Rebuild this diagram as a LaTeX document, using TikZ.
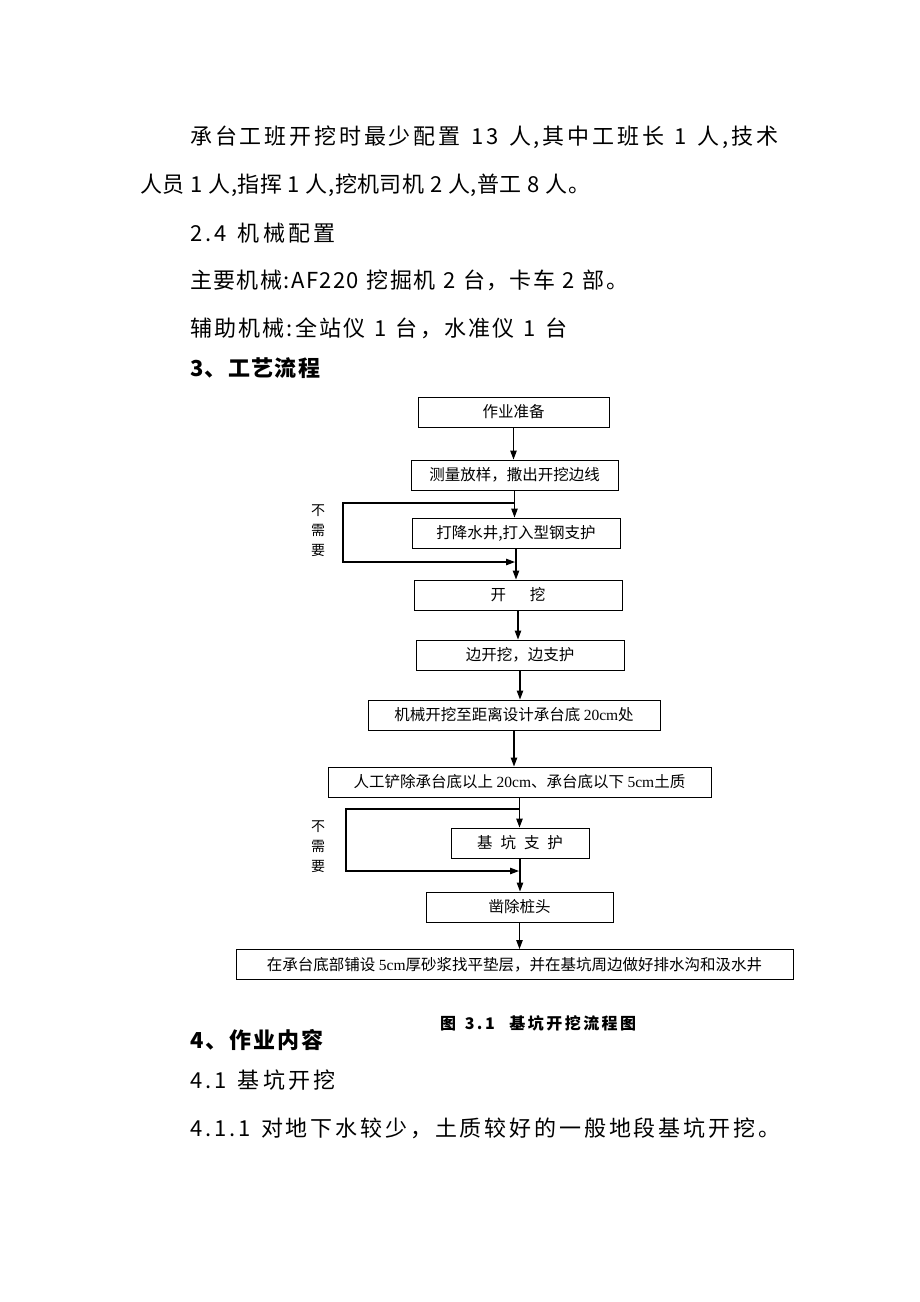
\documentclass[tikz,border=0pt]{standalone}
\usepackage{fontspec}
\setmainfont{Liberation Serif}
\newfontfamily\cjk{Noto Sans CJK SC}
\usetikzlibrary{arrows.meta}
\newcommand\fsbox{\cjk\fontsize{15.5}{18}\selectfont}
\newcommand\fsbody{\cjk\fontsize{22}{26}\selectfont}
\newcommand\fslbl{\cjk\fontsize{14}{20}\selectfont}
% spread a line of characters evenly over a given width
\def\spreadA#1{#1\spreadB}
\def\spreadB#1{\ifx#1\relax\else\hfill#1\expandafter\spreadB\fi}
\newcommand\spreadline[2]{\makebox[#1][l]{\spreadA #2\relax}}
\begin{document}
\begin{tikzpicture}[x=1pt,y=-1pt,
  box/.style={draw,line width=1pt,minimum height=30pt,inner sep=0pt,font=\fsbox},
  arr/.style={-{Triangle[length=9pt,width=6.5pt]},line width=1.1pt},
  body/.style={anchor=west,inner sep=0pt,font=\fsbody},
  lbl/.style={align=center,inner sep=0pt,font=\fslbl}]
\useasboundingbox (0,0) rectangle (920,1302);
\fill[white] (0,0) rectangle (920,1302);
% body text above
\node[body] (p1) at (190,137) {\spreadline{588pt}{承台工班开挖时最少配置~13~人,其中工班长~1~人,技术}};
\node[body] (p2) at (140,185) {\spreadline{450pt}{人员~1~人,指挥~1~人,挖机司机~2~人,普工~8~人。}};
\node[body] (p3) at (190,233) {\spreadline{145pt}{2.4~机械配置}};
\node[body] (p4) at (190,280) {\spreadline{438pt}{主要机械:AF220~挖掘机~2~台，卡车~2~部。}};
\node[body] (p5) at (190,328) {\spreadline{377pt}{辅助机械:全站仪~1~台，水准仪~1~台}};
\node[body] (h3) at (190,368) {\bfseries\spreadline{130pt}{3、工艺流程}};
% flow boxes
\node[box,minimum width=191pt] (b1) at (513.5,412) {作业准备};
\node[box,minimum width=207pt] (b2) at (514.5,475) {测量放样，撒出开挖边线};
\node[box,minimum width=208pt] (b3) at (516,533) {打降水井,打入型钢支护};
\node[box,minimum width=208pt] (b4) at (518,595) {开\hspace{24pt}挖};
\node[box,minimum width=208pt] (b5) at (520,655) {边开挖，边支护};
\node[box,minimum width=292pt] (b6) at (514,715) {机械开挖至距离设计承台底 {\rmfamily 20cm}处};
\node[box,minimum width=383pt] (b7) at (519.5,782) {人工铲除承台底以上 {\rmfamily 20cm}、承台底以下 {\rmfamily 5cm}土质};
\node[box,minimum width=138pt] (b8) at (520,843) {基\hspace{8pt}坑\hspace{8pt}支\hspace{8pt}护};
\node[box,minimum width=187pt] (b9) at (519.5,907) {凿除桩头};
\node[box,minimum width=557pt] (b10) at (514.5,964.5) {在承台底部铺设 {\rmfamily 5cm}厚砂浆找平垫层，并在基坑周边做好排水沟和汲水井};
% main arrows
\draw[arr] (b1.south) -- (b1.south |- b2.north);
\draw[arr] (b2.south) -- (b2.south |- b3.north);
\draw[arr] (b3.south) -- (b3.south |- b4.north);
\draw[arr] (b4.south) -- (b4.south |- b5.north);
\draw[arr] (b5.south) -- (b5.south |- b6.north);
\draw[arr] (b6.south) -- (b6.south |- b7.north);
\draw[arr] (b7.south) -- (b7.south |- b8.north);
\draw[arr] (b8.south) -- (b8.south |- b9.north);
\draw[arr] (b9.south) -- (b9.south |- b10.north);
% bypasses
\coordinate (t1) at (343,503);
\coordinate (j1) at (515,562);
\draw[arr] (b2.south |- t1) -- (t1) |- (j1);
\coordinate (t2) at (346,809);
\coordinate (j2) at (519,871);
\draw[arr] (b7.south |- t2) -- (t2) |- (j2);
\node[lbl] (n1) at (318,531) {不\\需\\要};
\node[lbl] (n2) at (318,847) {不\\需\\要};
% caption and text below
\node[anchor=west,inner sep=0pt,font=\cjk\fontsize{16}{18}\selectfont\bfseries] (cap) at (440,1023) {\spreadline{196pt}{图~3.1~~基坑开挖流程图}};
\node[body] (h4) at (190,1040) {\bfseries\spreadline{133pt}{4、作业内容}};
\node[body] (p6) at (190,1080) {\spreadline{145pt}{4.1~基坑开挖}};
\node[body] (p7) at (190,1128) {\spreadline{590pt}{4.1.1~对地下水较少，土质较好的一般地段基坑开挖。}};
\end{tikzpicture}
\end{document}
